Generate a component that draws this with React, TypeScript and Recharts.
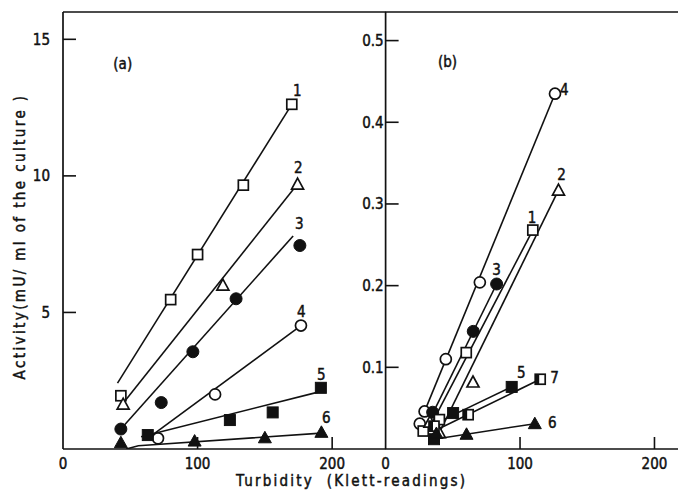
import React from 'react';
import { ScatterChart, Scatter, XAxis, YAxis, ReferenceLine } from 'recharts';

// ---------- Panel (a) ----------
const aS1 = [{ x: 43, y: 1.95 }, { x: 80, y: 5.47 }, { x: 100, y: 7.12 }, { x: 134, y: 9.66 }, { x: 170, y: 12.62 }];
const aS2 = [{ x: 44.7, y: 1.64 }, { x: 118.8, y: 6.0 }, { x: 174.3, y: 9.7 }];
const aS3 = [{ x: 43, y: 0.73 }, { x: 73, y: 1.7 }, { x: 96.5, y: 3.56 }, { x: 128.6, y: 5.5 }, { x: 176, y: 7.45 }];
const aS4 = [{ x: 70.6, y: 0.39 }, { x: 113, y: 2.0 }, { x: 176.8, y: 4.52 }];
const aS5 = [{ x: 63, y: 0.51 }, { x: 124, y: 1.06 }, { x: 155.8, y: 1.34 }, { x: 191.6, y: 2.24 }];
const aS6 = [{ x: 43, y: 0.23 }, { x: 97.8, y: 0.29 }, { x: 150, y: 0.41 }, { x: 192, y: 0.61 }];

const aL1 = [{ x: 40.5, y: 2.41 }, { x: 170, y: 12.62 }];
const aL2 = [{ x: 46, y: 1.76 }, { x: 174.3, y: 9.7 }];
const aL3 = [{ x: 43, y: 0.73 }, { x: 171, y: 7.8 }];
const aL4 = [{ x: 62, y: 0.35 }, { x: 176.8, y: 4.52 }];
const aL5 = [{ x: 58, y: 0.45 }, { x: 191, y: 2.1 }];
const aL6 = [{ x: 47, y: 0.0 }, { x: 56, y: 0.12 }, { x: 192, y: 0.58 }];

const aLabels = [
  { x: 174, y: 13.1, t: '1' },
  { x: 174.8, y: 10.3, t: '2' },
  { x: 175.6, y: 8.25, t: '3' },
  { x: 177, y: 5.0, t: '4' },
  { x: 191.9, y: 2.7, t: '5' },
  { x: 195.6, y: 1.13, t: '6' },
  { x: 44.4, y: 14.1, t: '(a)' },
];
const aYTicks = [5, 10, 15];
const aXTicks = [0, 100, 200];

// ---------- Panel (b) ----------
const bS1 = [{ x: 28, y: 0.022 }, { x: 40, y: 0.036 }, { x: 60, y: 0.118 }, { x: 109.5, y: 0.268 }];
const bS2 = [{ x: 33, y: 0.033 }, { x: 40, y: 0.02 }, { x: 65, y: 0.082 }, { x: 128.6, y: 0.317 }];
const bS3 = [{ x: 35, y: 0.045 }, { x: 65.2, y: 0.144 }, { x: 82.6, y: 0.202 }];
const bS4 = [{ x: 25.4, y: 0.031 }, { x: 29, y: 0.046 }, { x: 44.8, y: 0.11 }, { x: 70.1, y: 0.204 }, { x: 126, y: 0.435 }];
const bS5 = [{ x: 36, y: 0.012 }, { x: 50.2, y: 0.044 }, { x: 93.8, y: 0.076 }];
const bS6 = [{ x: 37.8, y: 0.019 }, { x: 60.2, y: 0.018 }, { x: 111, y: 0.031 }];
const bS7 = [{ x: 36, y: 0.028 }, { x: 61.4, y: 0.042 }, { x: 115, y: 0.0854 }];

const bL1 = [{ x: 34, y: 0.03 }, { x: 109.5, y: 0.268 }];
const bL2 = [{ x: 40, y: 0.02 }, { x: 128.6, y: 0.317 }];
const bL3 = [{ x: 34, y: 0.04 }, { x: 82.6, y: 0.202 }];
const bL4 = [{ x: 29, y: 0.046 }, { x: 126, y: 0.435 }];
const bL5 = [{ x: 38, y: 0.032 }, { x: 93.8, y: 0.076 }];
const bL6 = [{ x: 36, y: 0.012 }, { x: 111, y: 0.031 }];
const bL7 = [{ x: 40, y: 0.025 }, { x: 115, y: 0.0854 }];

const bLabels = [
  { x: 133, y: 0.44, t: '4' },
  { x: 130.9, y: 0.336, t: '2' },
  { x: 109, y: 0.283, t: '1' },
  { x: 82.5, y: 0.219, t: '3' },
  { x: 101, y: 0.093, t: '5' },
  { x: 125.6, y: 0.087, t: '7' },
  { x: 124, y: 0.032, t: '6' },
  { x: 46, y: 0.474, t: '(b)' },
];
const bYTicks = [0.1, 0.2, 0.3, 0.4, 0.5];
const bXTicks = [0, 100, 200];

const Y_TITLE = 'Activity(mU/ ml of the culture )';
const X_TITLE = 'Turbidity  (Klett-readings)';

const FONT = '"DejaVu Sans Condensed", "DejaVu Sans", sans-serif';
const INK = '#111';
const TXT = { fontFamily: FONT, fill: INK, stroke: INK, strokeWidth: 0.45 } as const;

const marker = (type: string) => (props: any) => {
  const { cx, cy } = props;
  if (cx == null || cy == null) return <g />;
  const sw = 1.7;
  switch (type) {
    case 'osq':
      return <rect x={cx - 5} y={cy - 5} width={10} height={10} fill="#fff" stroke={INK} strokeWidth={sw} />;
    case 'fsq':
      return <rect x={cx - 5.5} y={cy - 5.5} width={11} height={11} fill={INK} stroke={INK} strokeWidth={1} />;
    case 'dsq':
      return (
        <g>
          <rect x={cx - 5} y={cy - 5} width={10} height={10} fill="#fff" stroke={INK} strokeWidth={sw} />
          <rect x={cx - 5} y={cy - 5} width={4} height={10} fill={INK} />
        </g>
      );
    case 'oci':
      return <circle cx={cx} cy={cy} r={5.5} fill="#fff" stroke={INK} strokeWidth={sw} />;
    case 'fci':
      return <circle cx={cx} cy={cy} r={6} fill={INK} stroke={INK} strokeWidth={1} />;
    case 'otr':
      return <polygon points={`${cx},${cy - 6} ${cx + 6},${cy + 5} ${cx - 6},${cy + 5}`} fill="#fff" stroke={INK} strokeWidth={sw} />;
    case 'ftr':
      return <polygon points={`${cx},${cy - 6.5} ${cx + 6.5},${cy + 5} ${cx - 6.5},${cy + 5}`} fill={INK} stroke={INK} strokeWidth={1} />;
    default:
      return <g />;
  }
};

const noShape = () => <g />;

const labelShape = (props: any) => {
  const { cx, cy, payload } = props;
  if (cx == null) return <g />;
  return (
    <text x={cx} y={cy} dy={5} textAnchor="middle" fontSize={15} {...TXT}>
      {payload?.t}
    </text>
  );
};

const makeYTick = (fmt: (v: number) => string, gap: number) => (props: any) => {
  const { x, y, payload } = props;
  return (
    <g>
      <line x1={x} x2={x + 13} y1={y} y2={y} stroke={INK} strokeWidth={1.6} />
      <text x={x - gap} y={y} dy={5.5} textAnchor="end" fontSize={15} {...TXT}>
        {fmt(payload.value)}
      </text>
    </g>
  );
};

const XTick = (props: any) => {
  const { x, y, payload } = props;
  return (
    <g>
      {payload.value !== 0 && <line x1={x} x2={x} y1={y} y2={y - 12} stroke={INK} strokeWidth={1.6} />}
      <text x={x} y={y + 20} textAnchor="middle" fontSize={15} {...TXT}>
        {payload.value}
      </text>
    </g>
  );
};

const lineStyle = { stroke: INK, strokeWidth: 1.6 };
const axisStyle = { stroke: INK, strokeWidth: 1.7 };

const W = 678;
const H = 492;

export default function App() {
  return (
    <div style={{ position: 'absolute', left: 0, top: 0, width: W, height: H, background: '#fff' }}>
      <div style={{ position: 'absolute', left: 0, top: 0 }}>
        <ScatterChart width={W} height={H} margin={{ top: 12, right: 292, bottom: 0, left: 0 }}>
          <XAxis
            type="number"
            dataKey="x"
            domain={[0, 240]}
            ticks={aXTicks}
            height={43}
            tickLine={false}
            tickSize={0}
            tickMargin={0}
            tick={XTick}
            axisLine={axisStyle}
            allowDataOverflow
          />
          <YAxis
            type="number"
            dataKey="y"
            domain={[0, 16]}
            ticks={aYTicks}
            width={63}
            tickLine={false}
            tickSize={0}
            tickMargin={0}
            tick={makeYTick((v) => String(v), 13)}
            axisLine={axisStyle}
            allowDataOverflow
            label={{
              content: (p: any) => {
                const vb = p.viewBox || { x: 0, y: 12, width: 63, height: 437 };
                const cx = vb.x + 20;
                const cy = vb.y + vb.height / 2 + 6;
                return (
                  <text x={cx} y={cy} transform={`rotate(-90 ${cx} ${cy})`} textAnchor="middle" dominantBaseline="central" fontSize={15} letterSpacing={2.4} {...TXT}>
                    {Y_TITLE}
                  </text>
                );
              },
            }}
          />
          <ReferenceLine y={16} stroke={INK} strokeWidth={1.7} ifOverflow="extendDomain" />
          <Scatter data={aL1} line={lineStyle} shape={noShape} isAnimationActive={false} />
          <Scatter data={aL2} line={lineStyle} shape={noShape} isAnimationActive={false} />
          <Scatter data={aL3} line={lineStyle} shape={noShape} isAnimationActive={false} />
          <Scatter data={aL4} line={lineStyle} shape={noShape} isAnimationActive={false} />
          <Scatter data={aL5} line={lineStyle} shape={noShape} isAnimationActive={false} />
          <Scatter data={aL6} line={lineStyle} shape={noShape} isAnimationActive={false} />
          <Scatter data={aS1} shape={marker('osq')} isAnimationActive={false} />
          <Scatter data={aS2} shape={marker('otr')} isAnimationActive={false} />
          <Scatter data={aS3} shape={marker('fci')} isAnimationActive={false} />
          <Scatter data={aS4} shape={marker('oci')} isAnimationActive={false} />
          <Scatter data={aS5} shape={marker('fsq')} isAnimationActive={false} />
          <Scatter data={aS6} shape={marker('ftr')} isAnimationActive={false} />
          <Scatter data={aLabels} shape={labelShape} isAnimationActive={false} />
        </ScatterChart>
      </div>
      <div style={{ position: 'absolute', left: 0, top: 0 }}>
        <ScatterChart width={W} height={H} margin={{ top: 12, right: 0, bottom: 0, left: 0 }}>
          <XAxis
            type="number"
            dataKey="x"
            domain={[0, 217.5]}
            ticks={bXTicks}
            height={43}
            tickLine={false}
            tickSize={0}
            tickMargin={0}
            tick={XTick}
            axisLine={axisStyle}
            allowDataOverflow
            label={{
              content: (p: any) => {
                const vb = p.viewBox || { x: 385.6, y: 449, width: 292.4, height: 43 };
                return (
                  <text x={vb.x - 34} y={vb.y + 37} textAnchor="middle" fontSize={15} letterSpacing={2.2} style={{ whiteSpace: 'pre' }} {...TXT}>
                    {X_TITLE}
                  </text>
                );
              },
            }}
          />
          <YAxis
            type="number"
            dataKey="y"
            domain={[0, 0.535]}
            ticks={bYTicks}
            width={385.6}
            tickLine={false}
            tickSize={0}
            tickMargin={0}
            tick={makeYTick((v) => v.toFixed(1), 2)}
            axisLine={axisStyle}
            allowDataOverflow
          />
          <ReferenceLine y={0.535} stroke={INK} strokeWidth={1.7} ifOverflow="extendDomain" />
          <Scatter data={bL1} line={lineStyle} shape={noShape} isAnimationActive={false} />
          <Scatter data={bL2} line={lineStyle} shape={noShape} isAnimationActive={false} />
          <Scatter data={bL3} line={lineStyle} shape={noShape} isAnimationActive={false} />
          <Scatter data={bL4} line={lineStyle} shape={noShape} isAnimationActive={false} />
          <Scatter data={bL5} line={lineStyle} shape={noShape} isAnimationActive={false} />
          <Scatter data={bL6} line={lineStyle} shape={noShape} isAnimationActive={false} />
          <Scatter data={bL7} line={lineStyle} shape={noShape} isAnimationActive={false} />
          <Scatter data={bS4} shape={marker('oci')} isAnimationActive={false} />
          <Scatter data={bS3} shape={marker('fci')} isAnimationActive={false} />
          <Scatter data={bS1} shape={marker('osq')} isAnimationActive={false} />
          <Scatter data={bS2} shape={marker('otr')} isAnimationActive={false} />
          <Scatter data={bS5} shape={marker('fsq')} isAnimationActive={false} />
          <Scatter data={bS7} shape={marker('dsq')} isAnimationActive={false} />
          <Scatter data={bS6} shape={marker('ftr')} isAnimationActive={false} />
          <Scatter data={bLabels} shape={labelShape} isAnimationActive={false} />
        </ScatterChart>
      </div>
    </div>
  );
}
